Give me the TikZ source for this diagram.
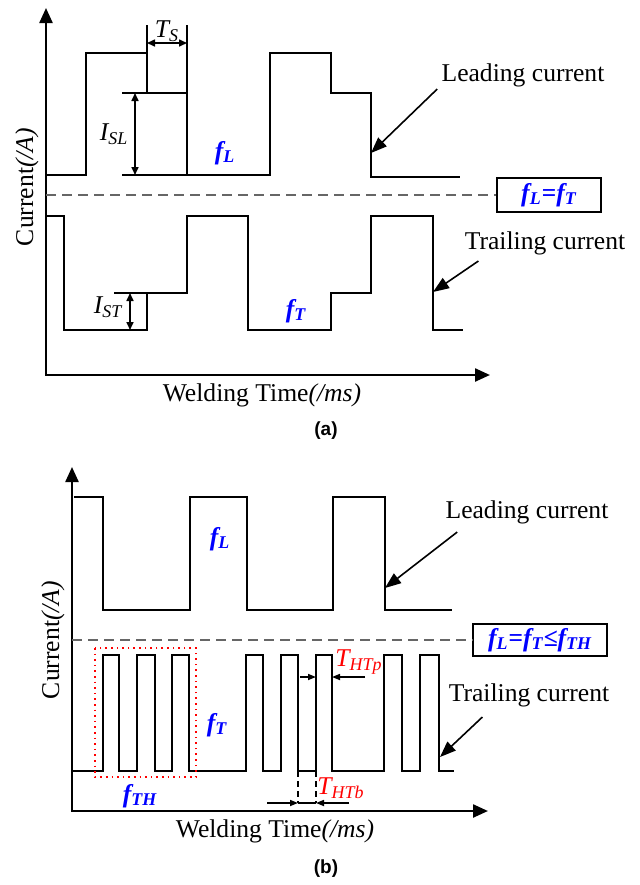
\documentclass[tikz,border=0pt]{standalone}
\usepackage{fontspec}
\setmainfont{Liberation Serif}
\setsansfont{Liberation Sans}
\usetikzlibrary{arrows.meta}

\begin{document}
\begin{tikzpicture}[x=0.5pt, y=-0.5pt,
    wave/.style={line width=1.1pt},
    axis/.style={line width=1.2pt, {Triangle[length=7.5pt,width=6.5pt]}-{Triangle[length=7.5pt,width=6.5pt]}},
    lbl/.style={inner sep=0pt, font=\fontsize{12.8}{15}\selectfont},
    freq/.style={inner sep=0pt, text=blue, font=\fontsize{12.8}{15}\selectfont\bfseries\itshape},
    pointer/.style={line width=0.8pt, -{Triangle[length=8pt,width=6pt]}},
    smallhead/.style={line width=0.8pt, -{Triangle[length=4pt,width=3pt]}},
    dimarrow/.style={line width=0.8pt, {Triangle[length=4pt,width=3.5pt]}-{Triangle[length=4pt,width=3.5pt]}},
    tick/.style={line width=0.8pt},
    guide/.style={draw=gray!80!black, line width=0.7pt, dash pattern=on 5pt off 3pt},
    ratio/.style={draw, line width=0.9pt, inner sep=0pt, text=blue, font=\fontsize{12.8}{15}\selectfont\bfseries\itshape},
    panel/.style={inner sep=0pt, font=\sffamily\bfseries\fontsize{9.5}{11}\selectfont}
]
        \useasboundingbox (0,0) rectangle (640,885);

        % ---------- Panel (a) ----------
        \coordinate (OriginA) at (46,375);
        \draw[axis] (46,8) -- (OriginA) -- (490,375);

        % leading current
        \draw[wave] (46,175) -- (86,175) -- (86,53) -- (147,53) -- (147,93) -- (187,93) -- (187,175)
                -- (270,175) -- (270,53) -- (331,53) -- (331,93) -- (371,93) -- (371,177) -- (460,177);

        % trailing current
        \draw[wave] (46,216) -- (64,216) -- (64,330) -- (147,330) -- (147,293) -- (187,293) -- (187,216)
                -- (248,216) -- (248,330) -- (331,330) -- (331,293) -- (371,293) -- (371,216)
                -- (433,216) -- (433,330) -- (463,330);

        % step width T_S
        \coordinate (TsLeft) at (147,43);
        \coordinate (TsRight) at (187,43);
        \draw[tick] (147,25) -- (147,53);
        \draw[tick] (187,25) -- (187,93);
        \draw[dimarrow] (TsLeft) -- (TsRight);
        \node[lbl] (TsLbl) at (167,31) {\textit{T\textsubscript{S}}};

        % step height I_SL
        \coordinate (IslTop) at (135,93);
        \coordinate (IslBot) at (135,175);
        \draw[tick] (122,93) -- (147,93);
        \draw[tick] (122,175) -- (187,175);
        \draw[dimarrow] (IslTop) -- (IslBot);
        \node[lbl] (IslLbl) at (114,134) {\textit{I\textsubscript{SL}}};

        % step height I_ST
        \coordinate (IstTop) at (130,293);
        \coordinate (IstBot) at (130,330);
        \draw[tick] (114,293) -- (147,293);
        \draw[dimarrow] (IstTop) -- (IstBot);
        \node[lbl] (IstLbl) at (108,307) {\textit{I\textsubscript{ST}}};

        \node[freq] (FlA) at (225,153) {f\textsubscript{L}};
        \node[freq] (FtA) at (296,311) {f\textsubscript{T}};

        % equal frequency box
        \node[ratio, minimum width=52pt, minimum height=17pt] (RatioA) at (549,195) {f\textsubscript{L}=f\textsubscript{T}};
        \draw[guide] (46,195) -- (RatioA.west);

        % pointers
        \node[lbl] (LeadLblA) at (523,75) {Leading current};
        \coordinate (LeadEdgeA) at (371,153);
        \draw[pointer] ([xshift=-2pt,yshift=-1pt]LeadLblA.south west) -- (LeadEdgeA);
        \node[lbl] (TrailLblA) at (545,243) {Trailing current};
        \coordinate (TrailEdgeA) at (433,292);
        \draw[pointer] ([xshift=7pt,yshift=-3pt]TrailLblA.south west) -- (TrailEdgeA);

        \node[lbl, rotate=90] (YLblA) at (27,187) {Current\textit{(/A)}};
        \node[lbl] (XLblA) at (262,395) {Welding Time\textit{(/ms)}};
        \node[panel] (TitleA) at (326,431) {(a)};

        % ---------- Panel (b) ----------
        \coordinate (OriginB) at (72,811);
        \draw[axis] (72,467) -- (OriginB) -- (488,811);

        % leading current
        \draw[wave] (74,497) -- (103,497) -- (103,610) -- (190,610) -- (190,497) -- (247,497) -- (247,610)
                -- (333,610) -- (333,497) -- (385,497) -- (385,610) -- (452,610);

        % trailing current, high frequency pulses
        \draw[wave] (72,771) -- (103,771) -- (103,655) -- (119,655) -- (119,771)
                -- (137,771) -- (137,655) -- (155,655) -- (155,771)
                -- (172,771) -- (172,655) -- (189,655) -- (189,771)
                -- (246,771) -- (246,655) -- (263,655) -- (263,771)
                -- (281,771) -- (281,655) -- (298,655) -- (298,771)
                -- (316,771) -- (316,655) -- (332,655) -- (332,771)
                -- (384,771) -- (384,655) -- (402,655) -- (402,771)
                -- (420,771) -- (420,655) -- (439,655) -- (439,771) -- (454,771);

        % high frequency group
        \draw[red, line width=0.8pt, dotted] (95,648) rectangle (196,777);

        \node[freq] (FlB) at (220,539) {f\textsubscript{L}};
        \node[freq] (FtB) at (217,725) {f\textsubscript{T}};
        \node[freq] (FthB) at (140,796) {f\textsubscript{TH}};

        % pulse width T_HTp
        \coordinate (HtpLeft) at (316,677);
        \coordinate (HtpRight) at (332,677);
        \draw[smallhead] (300,677) -- (HtpLeft);
        \draw[smallhead] (365,677) -- (HtpRight);
        \node[lbl, text=red] (HtpLbl) at (359,662) {\textit{T\textsubscript{HTp}}};

        % base width T_HTb
        \coordinate (HtbLeft) at (298,803);
        \coordinate (HtbRight) at (316,803);
        \draw[line width=0.8pt, densely dashed] (298,771) -- (HtbLeft);
        \draw[line width=0.8pt, densely dashed] (316,771) -- (HtbRight);
        \draw[tick] (HtbLeft) -- (HtbRight);
        \draw[smallhead] (267,803) -- (HtbLeft);
        \draw[smallhead] (349,803) -- (HtbRight);
        \node[lbl, text=red] (HtbLbl) at (341,788) {\textit{T\textsubscript{HTb}}};

        % frequency relation box
        \node[ratio, minimum width=67pt, minimum height=16pt] (RatioB) at (540,640) {f\textsubscript{L}=f\textsubscript{T}≤f\textsubscript{TH}};
        \draw[guide] (72,640) -- (RatioB.west);

        % pointers
        \node[lbl] (LeadLblB) at (527,512) {Leading current};
        \coordinate (LeadEdgeB) at (385,588);
        \draw[pointer] ([xshift=6pt,yshift=-4pt]LeadLblB.south west) -- (LeadEdgeB);
        \node[lbl] (TrailLblB) at (529,695) {Trailing current};
        \coordinate (TrailEdgeB) at (440,757);
        \draw[pointer] ([xshift=17pt,yshift=-5pt]TrailLblB.south west) -- (TrailEdgeB);

        \node[lbl, rotate=90] (YLblB) at (53,640) {Current\textit{(/A)}};
        \node[lbl] (XLblB) at (275,831) {Welding Time\textit{(/ms)}};
        \node[panel] (TitleB) at (326,869) {(b)};

\end{tikzpicture}
\end{document}
